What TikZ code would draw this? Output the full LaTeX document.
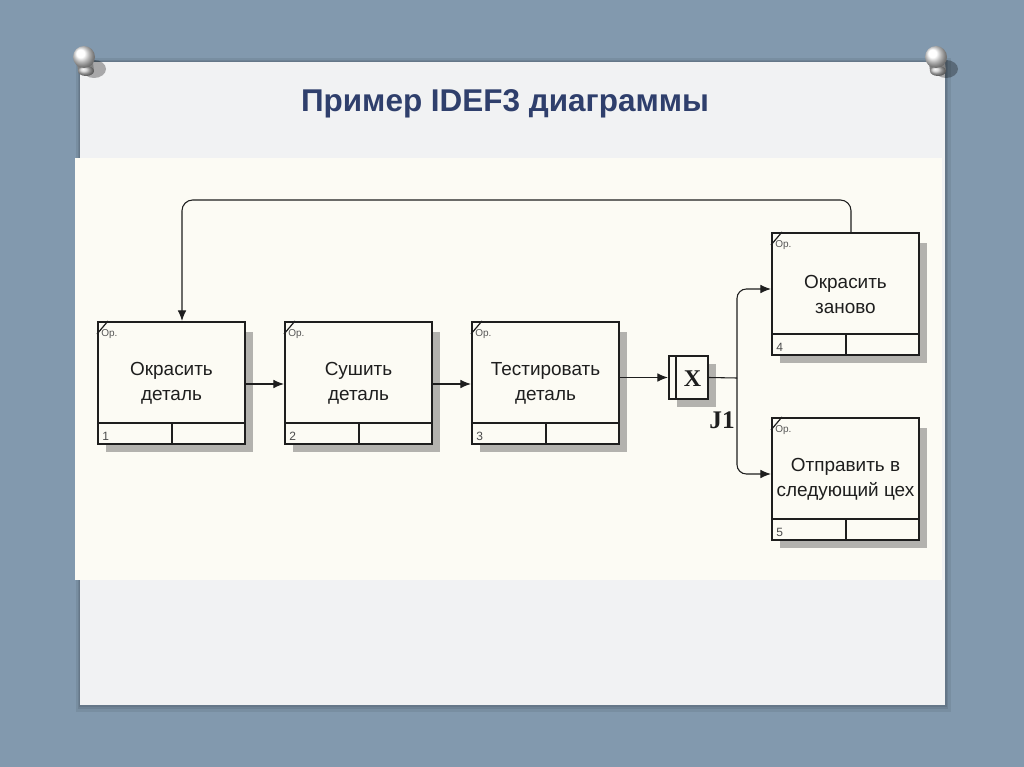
\documentclass[tikz,border=0pt]{standalone}
\usepackage{fontspec}
\setmainfont{Liberation Sans}
\newfontfamily\serifbold{Liberation Serif}
\usetikzlibrary{calc,arrows.meta}
\definecolor{bgblue}{HTML}{8299AE}
\definecolor{slate}{HTML}{F1F2F3}
\definecolor{cream}{HTML}{FCFBF4}
\definecolor{titleblue}{HTML}{2F3F6C}
\definecolor{shadowc}{HTML}{B3B2AE}
\definecolor{ink}{HTML}{1E1E1E}
\tikzset{
  procbox/.style={draw=ink, line width=1.5pt, fill=cream, minimum width=110.25pt,
    minimum height=91.5pt, inner sep=0pt, align=center, text=ink,
    font=\fontsize{14.2}{18.75}\selectfont},
  boxline/.style={draw=ink, line width=1.5pt},
  oplabel/.style={font=\fontsize{7.5}{8}\selectfont, text=ink!75, inner sep=0pt},
  numlabel/.style={font=\fontsize{9}{10}\selectfont, text=ink!80, inner sep=0pt},
  conn/.style={draw=ink, line width=0.8pt},
  arr/.style={conn, -{Latex[length=8pt,width=6.5pt]}},
  pinshadow/.style={fill=black, opacity=0.3},
}
\newcommand\procnode[5]{%
  \fill[shadowc] (#2-65.5,#3-51) rectangle (#2+81.5,#3+69);
  \node[procbox] (#1) at (#2,#3) {#4};
  \draw[boxline] ($(#1.south west)+(0,-22)$) -- ($(#1.south east)+(0,-22)$);
  \draw[boxline] ($(#1.south)+(0,-22)$) -- (#1.south);
  \draw[conn, line width=0.9pt] ($(#1.north west)+(0,13)$) -- ($(#1.north west)+(11,0)$);
  \node[oplabel, anchor=west] (#1op) at ($(#1.north west)+(4,13)$) {Op.};
  \node[numlabel, anchor=south west] (#1num) at ($(#1.south west)+(5,-4)$) {#5};
}
\newcommand\pushpin[2]{%
  \fill[pinshadow] (#1+10,#2+12) ellipse (12 and 9);
  \fill[black!50] (#1-8,#2-2) -- (#1+8,#2-2) -- (#1+10,#2+14) -- (#1-6,#2+14) -- cycle;
  \shade[ball color=black!20] (#1+2,#2+14) ellipse (8 and 5);
  \shade[ball color=white] (#1,#2) circle (11);
}
\begin{document}
\begin{tikzpicture}[x=0.75pt,y=-0.75pt]
\useasboundingbox (0,0) rectangle (1024,767);
% background
\fill[bgblue] (0,0) rectangle (1024,767);
\fill[black, opacity=0.07] (76,58) rectangle (951,712);
\fill[black, opacity=0.08] (78,60) rectangle (948,709);
\fill[black, opacity=0.08] (79,61) rectangle (947,707);
\fill[slate] (80,62) rectangle (945,705);
% pins
\pushpin{84}{57}
\pushpin{936}{57}
% title
\node[font=\bfseries\fontsize{23.6}{28}\selectfont, text=titleblue] (title) at (505,104) {Пример IDEF3 диаграммы};
% diagram area
\fill[cream] (75,158) rectangle (942,580);
% boxes
\procnode{b1}{171.5}{383}{Окрасить\\деталь}{1}
\procnode{b2}{358.5}{383}{Сушить\\деталь}{2}
\procnode{b3}{545.5}{383}{Тестировать\\деталь}{3}
\procnode{b4}{845.5}{294}{Окрасить\\заново}{4}
\procnode{b5}{845.5}{479}{Отправить в\\следующий цех}{5}
% junction
\fill[shadowc] (677,364) rectangle (716,407);
\node[draw=ink, line width=1.5pt, fill=cream, minimum width=29.25pt, minimum height=32.25pt, inner sep=0pt] (J) at (688.5,377.5) {};
\draw[conn, line width=1.2pt] ($(J.north west)+(8,0)$) -- ($(J.south west)+(8,0)$);
\node[font=\serifbold\bfseries\fontsize{18}{20}\selectfont, text=ink, inner sep=0pt] (Jx) at (692.5,378.5) {X};
\node[font=\serifbold\bfseries\fontsize{19}{21}\selectfont, text=ink, inner sep=0pt] (J1) at (722,420) {J1};
% connectors
\coordinate (o1) at ($(b1.east)+(0,1)$);
\coordinate (o2) at ($(b2.east)+(0,1)$);
\coordinate (o3) at (b3.east |- J.west);
\draw[arr] (o1) -- (b2.west |- o1);
\draw[arr] (o2) -- (b3.west |- o2);
\draw[arr] (o3) -- (J.west);
\coordinate (k) at (737,378);
\coordinate (a4) at ($(b4.west)+(0,-5)$);
\coordinate (a5) at ($(b5.west)+(0,-5)$);
\draw[conn] (J.east) -- (k);
\draw[arr, rounded corners=7pt] (k) |- (a4);
\draw[arr, rounded corners=7pt] (k) |- (a5);
\coordinate (f1) at (851,200);
\coordinate (f2) at (182,200);
\draw[arr, rounded corners=8pt] (b4.north -| f1) -- (f1) -- (f2) -- (b1.north -| f2);
\end{tikzpicture}
\end{document}
